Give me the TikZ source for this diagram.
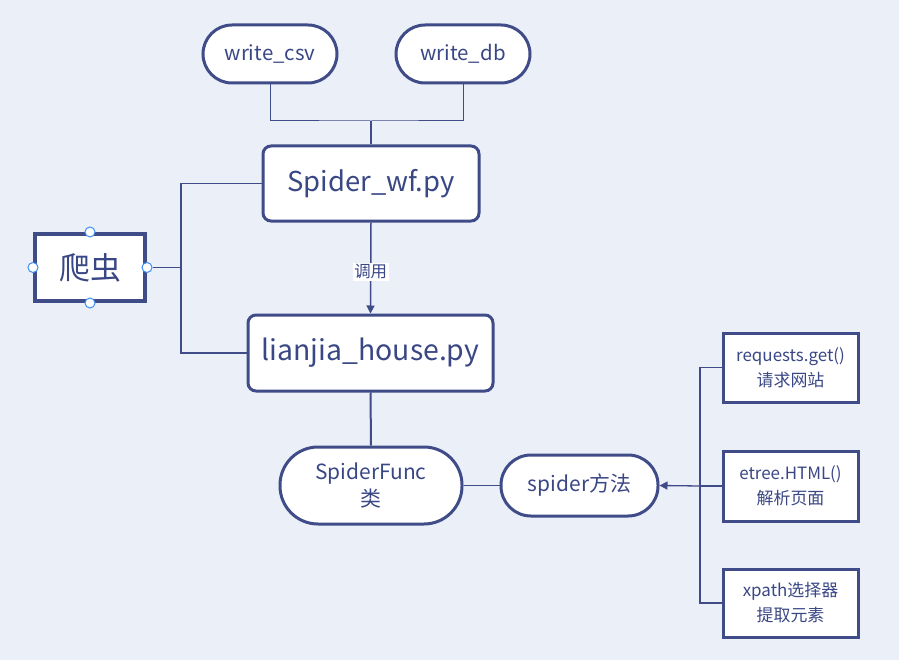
\documentclass[tikz,border=0pt]{standalone}
\usepackage{fontspec}
\setmainfont{Noto Sans CJK SC}
\usetikzlibrary{arrows.meta}
\definecolor{bgc}{HTML}{EBEFF8}
\definecolor{navy}{HTML}{3F4C88}
\definecolor{txt}{HTML}{3A4785}
\definecolor{handle}{HTML}{3D8EF2}
\tikzset{
  box/.style={draw=navy, line width=3bp, fill=white, text=txt, align=center, inner sep=0pt},
  stad/.style={box, rounded corners=29bp},
  rbox/.style={box, rounded corners=8bp},
  sbox/.style={box},
  conn/.style={draw=navy, line width=1.3bp},
  hdl/.style={circle, draw=handle, fill=white, line width=1bp, minimum size=10bp, inner sep=0pt},
}
\begin{document}
\begin{tikzpicture}[x=1bp,y=-1bp]
\fill[bgc] (0,0) rectangle (899,660);
\useasboundingbox (0,0) rectangle (899,660);
% nodes
\node[stad, minimum width=134bp, minimum height=58bp, font=\fontsize{20.5}{24}\selectfont] (csv) at (270,54) {write\_csv};
\node[stad, minimum width=134bp, minimum height=58bp, font=\fontsize{20.5}{24}\selectfont] (db) at (463,54) {write\_db};
\node[rbox, minimum width=216bp, minimum height=75bp, font=\fontsize{27.5}{32}\selectfont] (wf) at (371,183.5) {Spider\_wf.py};
\node[rbox, minimum width=245bp, minimum height=76bp, font=\fontsize{28.5}{32}\selectfont] (lj) at (370.5,353) {lianjia\_house.py};
\node[sbox, line width=4bp, minimum width=110bp, minimum height=67bp, font=\fontsize{31}{34}\selectfont] (pc) at (90,267.5) {爬虫};
\node[stad, rounded corners=38bp, minimum width=182bp, minimum height=77bp, font=\fontsize{21}{28}\selectfont] (sf) at (371,485.5) {SpiderFunc\\类};
\node[stad, rounded corners=30bp, minimum width=157bp, minimum height=61bp, font=\fontsize{21}{24}\selectfont] (sm) at (579.5,485.5) {spider方法};
\node[sbox, minimum width=135bp, minimum height=69bp, font=\fontsize{17}{25}\selectfont] (rq) at (790.5,367.5) {requests.get()\\请求网站};
\node[sbox, minimum width=135bp, minimum height=70bp, font=\fontsize{17}{25}\selectfont] (et) at (790.5,486) {etree.HTML()\\解析页面};
\node[sbox, minimum width=135bp, minimum height=68bp, font=\fontsize{17}{25}\selectfont] (xp) at (790.5,603) {xpath选择器\\提取元素};
% handles
\node[hdl] (h1) at (pc.north) {};
\node[hdl] (h2) at (pc.south) {};
\node[hdl] (h3) at (pc.west) {};
\node[hdl] (h4) at (pc.east) {};
% coordinates
\coordinate (top) at (371,121);
\coordinate (lx) at (181,267.5);
\coordinate (rx) at (700,486);
% connectors
\draw[conn, line width=1bp] (csv.south) |- (top) -| (db.south);
\draw[conn, line width=2bp] (top) -- (wf.north);
\draw[conn] (h4) -- (lx);
\draw[conn] (lx) |- (wf.west);
\draw[conn] (lx) |- (lj.west);
\draw[conn, line width=1.5bp, -{Triangle[length=8bp,width=8bp]}] (wf.south) -- node[fill=white, text=txt, inner sep=1.5bp, font=\fontsize{16.5}{18}\selectfont, pos=0.54] (lbl) {调用} (lj.north);
\draw[conn, line width=2bp] (lj.south) -- (sf.north);
\draw[conn] (sf.east) -- (sm.west);
\draw[conn, -{Triangle[length=8bp,width=8bp]}] (rx) -- (sm.east);
\draw[conn] (rx) |- (rq.west);
\draw[conn] (rx) |- (xp.west);
\draw[conn] (rx) -- (et.west);
\end{tikzpicture}
\end{document}
